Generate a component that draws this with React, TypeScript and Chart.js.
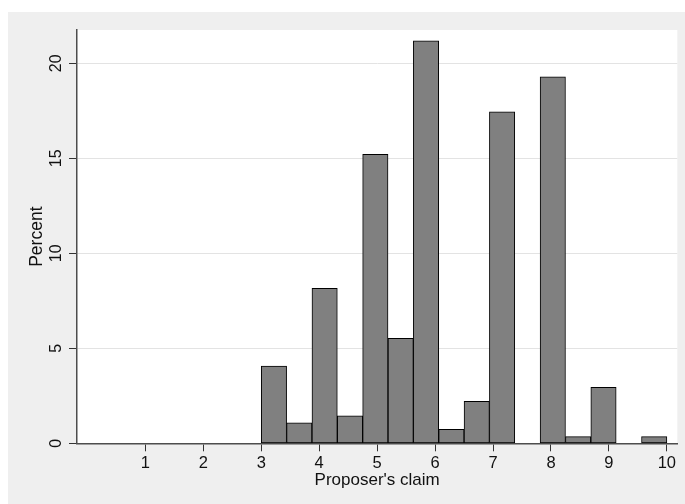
import React, { useEffect, useRef } from "react";
import { Chart, registerables } from "chart.js";

Chart.register(...registerables);

// Histogram bins (lower edges) and bin width, in units of "Proposer's claim"
const binStarts = [3, 3.4375, 3.875, 4.3125, 4.75, 5.1875, 5.625, 6.0625, 6.5, 6.9375, 7.375, 7.8125, 8.25, 8.6875, 9.125, 9.5625];
const binWidth = 0.4375;
// Percent in each bin
const percents = [4.07, 1.08, 8.16, 1.45, 15.21, 5.53, 21.18, 0.74, 2.21, 17.45, 0, 19.28, 0.35, 2.95, 0, 0.35];

const xTicks = [1, 2, 3, 4, 5, 6, 7, 8, 9, 10];
const yTicks = [0, 5, 10, 15, 20];
const xMin = -0.18;
const xMax = 10.18;
const yMin = 0;
const yMax = 21.75;

const xTitle = "Proposer's claim";
const yTitle = "Percent";

const FONT = "'Liberation Sans', Arial, Helvetica, sans-serif";

const bgPlugin = {
  id: "stataBg",
  beforeDraw(chart: any) {
    const { ctx, chartArea, width, height } = chart;
    ctx.save();
    ctx.fillStyle = "#efefef";
    ctx.fillRect(0, 0, width, height);
    ctx.fillStyle = "#ffffff";
    ctx.fillRect(chartArea.left, chartArea.top, chartArea.right - chartArea.left, chartArea.bottom - chartArea.top);
    ctx.restore();
  },
};

export default function App() {
  const ref = useRef<HTMLCanvasElement>(null);

  useEffect(() => {
    const canvas = ref.current;
    if (!canvas) return;
    const chart = new Chart(canvas, {
      type: "bar",
      data: {
        datasets: [
          {
            data: binStarts.map((s, i) => ({ x: s + binWidth / 2, y: percents[i] })),
            backgroundColor: "#808080",
            borderColor: "#000000",
            borderWidth: 1,
            borderSkipped: false,
            barPercentage: 1,
            categoryPercentage: 1,
          } as any,
        ],
      },
      options: {
        animation: false,
        responsive: false,
        devicePixelRatio: 1,
        layout: { padding: { top: 18, right: 7.7, bottom: 0, left: 0 } },
        plugins: { legend: { display: false }, tooltip: { enabled: false } },
        scales: {
          x: {
            type: "linear",
            min: xMin,
            max: xMax,
            offset: false,
            afterBuildTicks: (scale: any) => {
              scale.ticks = xTicks.map((v) => ({ value: v }));
            },
            afterFit: (scale: any) => {
              scale.height = 60.7;
            },
            grid: {
              display: true,
              drawOnChartArea: false,
              offset: false,
              tickLength: 8,
              tickColor: "#333333",
              tickWidth: 1,
            },
            border: { display: true, color: "#4d4d4d", width: 1.5 },
            ticks: {
              autoSkip: false,
              maxRotation: 0,
              minRotation: 0,
              padding: 4,
              color: "#111111",
              font: { family: FONT, size: 16.5, lineHeight: 1 },
            },
            title: {
              display: true,
              text: xTitle,
              color: "#111111",
              font: { family: FONT, size: 17, lineHeight: 1 },
              padding: { top: 0, bottom: 15.2 },
            },
          },
          y: {
            type: "linear",
            min: yMin,
            max: yMax,
            afterBuildTicks: (scale: any) => {
              scale.ticks = yTicks.map((v) => ({ value: v }));
            },
            afterFit: (scale: any) => {
              scale.width = 69;
            },
            grid: {
              display: true,
              drawOnChartArea: true,
              tickLength: 8,
              color: (ctx: any) => (ctx.tick && ctx.tick.value === 0 ? "rgba(0,0,0,0)" : "#e3e3e3"),
              lineWidth: 1,
              tickColor: "#333333",
              tickWidth: 1,
            },
            border: { display: true, color: "#4d4d4d", width: 1.5 },
            ticks: {
              autoSkip: false,
              minRotation: 90,
              maxRotation: 90,
              crossAlign: "center",
              padding: 3.8,
              color: "#111111",
              font: { family: FONT, size: 16, lineHeight: 1 },
            },
            title: {
              display: true,
              text: yTitle,
              color: "#111111",
              font: { family: FONT, size: 17.5, lineHeight: 1 },
              padding: { top: 20.75, bottom: 0 },
            },
          },
        },
      } as any,
      plugins: [bgPlugin],
    });
    return () => chart.destroy();
  }, []);

  return (
    <div style={{ position: "fixed", left: 0, top: 0, width: 685, height: 504, background: "#ffffff", overflow: "hidden" }}>
      <canvas
        ref={ref}
        width={677}
        height={492}
        style={{ position: "absolute", left: 8, top: 12, width: 677, height: 492 }}
      />
    </div>
  );
}
